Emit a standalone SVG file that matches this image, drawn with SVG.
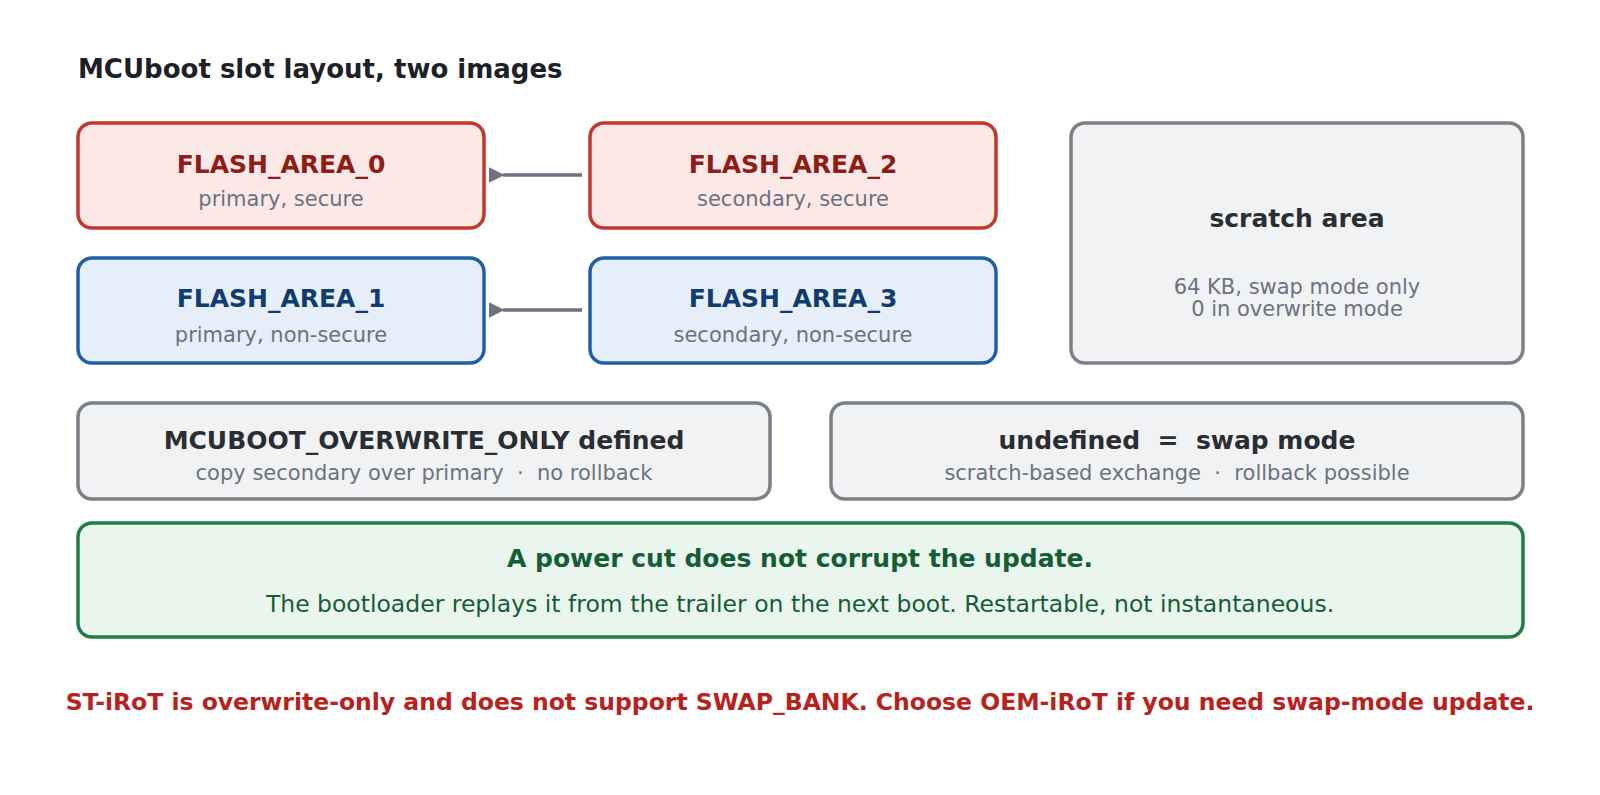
<svg xmlns="http://www.w3.org/2000/svg" width="1600" height="795" viewBox="0 0 1600 795">
<style>
text{font-family:"DejaVu Sans","Liberation Sans",sans-serif;text-anchor:middle}
.red rect{fill:#fde8e8;stroke:#c0392b;stroke-width:3.5}
.red .t{fill:#8e1c17}
.blue rect{fill:#e6eefa;stroke:#1f5fa8;stroke-width:3.5}
.blue .t{fill:#113d6e}
.gray rect{fill:#f1f2f4;stroke:#7b8088;stroke-width:3.5}
.gray .t{fill:#2a2e33}
.t{font-weight:bold;font-size:25px}
.s{fill:#6b7280;font-size:21px}
</style>
<defs><marker id="ah" viewBox="0 0 10 10" refX="1" refY="5" markerWidth="4.5" markerHeight="4.5" orient="auto"><path d="M10,0L0,5L10,10z" fill="#6b7280"/></marker></defs>
<rect width="1600" height="795" fill="#fff"/>
<text x="78" y="78" style="text-anchor:start;font-weight:bold;font-size:26px;fill:#1d2126">MCUboot slot layout, two images</text>
<g id="fa0" class="red"><rect x="78" y="123" width="406" height="105" rx="14"/><text class="t" x="281" y="173">FLASH_AREA_0</text><text class="s" x="281" y="206">primary, secure</text></g>
<g id="fa2" class="red"><rect x="590" y="123" width="406" height="105" rx="14"/><text class="t" x="793" y="173">FLASH_AREA_2</text><text class="s" x="793" y="206">secondary, secure</text></g>
<g id="fa1" class="blue"><rect x="78" y="258" width="406" height="105" rx="14"/><text class="t" x="281" y="307">FLASH_AREA_1</text><text class="s" x="281" y="342">primary, non-secure</text></g>
<g id="fa3" class="blue"><rect x="590" y="258" width="406" height="105" rx="14"/><text class="t" x="793" y="307">FLASH_AREA_3</text><text class="s" x="793" y="342">secondary, non-secure</text></g>
<g id="scratch" class="gray"><rect x="1071" y="123" width="452" height="240" rx="14"/><text class="t" x="1297" y="227">scratch area</text><text class="s" x="1297" y="294">64 KB, swap mode only</text><text class="s" x="1297" y="316">0 in overwrite mode</text></g>
<g id="ow" class="gray"><rect x="78" y="403" width="692" height="96" rx="14"/><text class="t" x="424" y="449">MCUBOOT_OVERWRITE_ONLY defined</text><text class="s" x="424" y="480" xml:space="preserve">copy secondary over primary  ·  no rollback</text></g>
<g id="swap" class="gray"><rect x="831" y="403" width="692" height="96" rx="14"/><text class="t" x="1177" y="449" xml:space="preserve">undefined  =  swap mode</text><text class="s" x="1177" y="480" xml:space="preserve">scratch-based exchange  ·  rollback possible</text></g>
<g id="note"><rect x="78" y="523" width="1445" height="114" rx="14" fill="#eaf5ee" stroke="#1e7e45" stroke-width="3.5"/><text x="800" y="567" style="font-weight:bold;font-size:25px;fill:#135e34">A power cut does not corrupt the update.</text><text x="800" y="612" style="font-size:23.5px;fill:#135e34">The bootloader replays it from the trailer on the next boot. Restartable, not instantaneous.</text></g>
<g id="connectors" stroke="#6b7280" stroke-width="3.5" fill="none" marker-end="url(#ah)"><line x1="582" y1="175" x2="503" y2="175"/><line x1="582" y1="310" x2="503" y2="310"/></g>
<text x="800" y="710" style="font-weight:bold;font-size:23.5px;fill:#b8221c">ST-iRoT is overwrite-only and does not support SWAP_BANK. Choose OEM-iRoT if you need swap-mode update.</text>
</svg>
